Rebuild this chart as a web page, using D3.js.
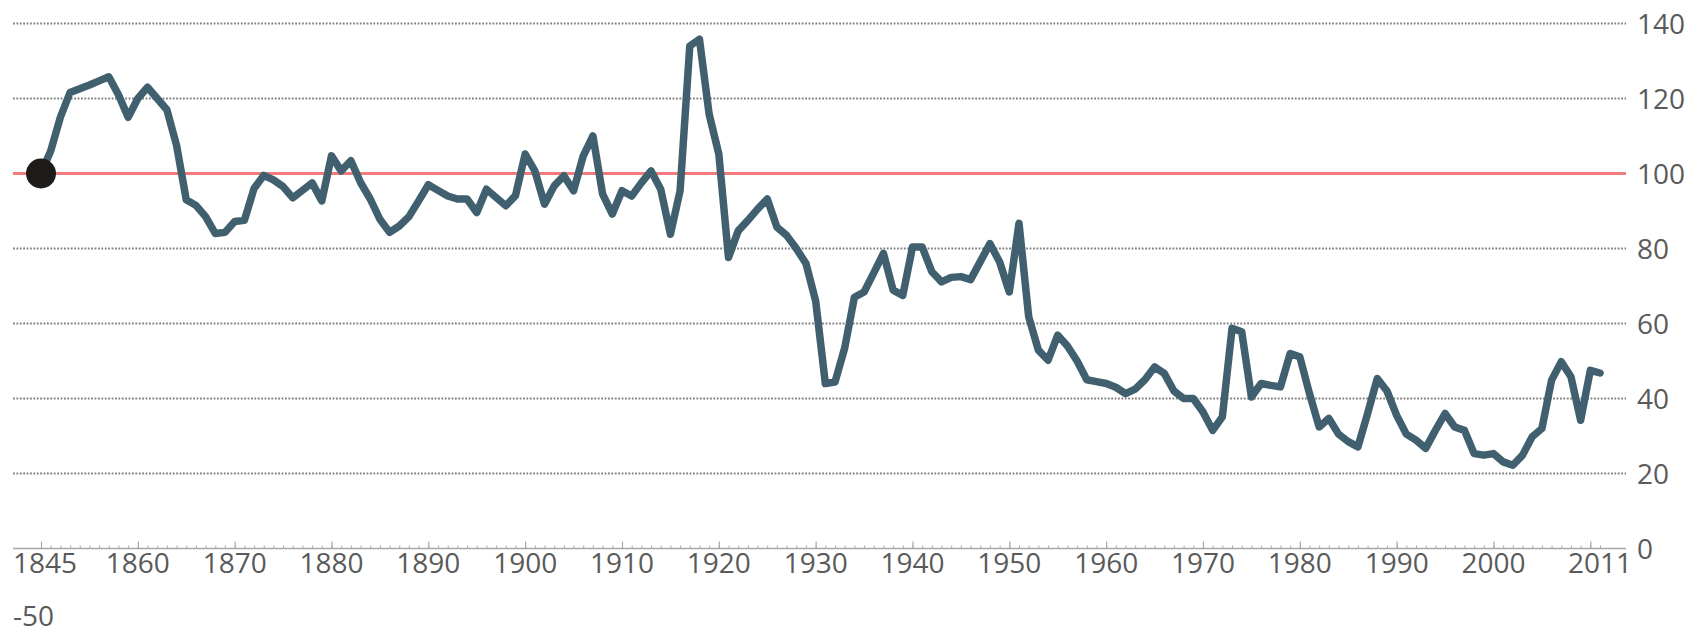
<!DOCTYPE html>
<html>
<head>
<meta charset="utf-8">
<script src="https://cdn.jsdelivr.net/npm/d3@7"></script>
<style>
    html, body { margin: 0; padding: 0; background: #fff; }
    svg { display: block; }
    text { font-family: 'Open Sans', 'DejaVu Sans', sans-serif; fill: #5a5a5a; }
</style>
</head>
<body>
<svg width="1703" height="638"></svg>
<script>
// index, 1845-50 = 100 (first point), then yearly
const firstYear = 1850;
const lastYear = 2011;
const values = [
    100, 106, 115, 121.6, 122.6, 123.6, 124.7, 125.8, 121, 115,
    120, 123, 120, 117, 107.5, 93, 91.5, 88.5, 84, 84.3,
    87.2, 87.5, 96, 99.5, 98.3, 96.5, 93.5, 95.5, 97.5, 92.7,
    104.7, 100.7, 103.4, 97.6, 93.2, 87.8, 84.3, 86, 88.5, 92.7,
    97, 95.5, 94, 93.2, 93.2, 89.6, 95.8, 93.6, 91.4, 94.1,
    105.2, 100.7, 91.8, 96.7, 99.4, 95.4, 104.7, 110, 94.5, 89.2,
    95.4, 94, 97.5, 100.7, 95.8, 83.8, 95.4, 134, 135.8, 115.8,
    105.2, 77.6, 84.7, 87.5, 90.5, 93.2, 85.7, 83.5, 80, 76,
    66, 44, 44.4, 53.5, 67, 68.4, 73.5, 78.7, 68.9, 67.5,
    80.4, 80.4, 73.8, 71.1, 72.3, 72.5, 71.7, 76.5, 81.3, 76.4,
    68.4, 86.7, 61.8, 52.9, 50.2, 56.9, 54, 50, 45, 44.5,
    44, 43, 41.3, 42.5, 45, 48.4, 46.7, 42, 40, 40,
    36.4, 31.5, 35.1, 58.7, 57.8, 40.4, 44, 43.5, 43.1, 52,
    51.1, 41.3, 32.4, 34.7, 30.5, 28.5, 27.1, 36, 45.3, 42,
    35.5, 30.5, 28.9, 26.7, 31.5, 36, 32.4, 31.5, 25.3, 24.9,
    25.3, 23.1, 22.2, 24.9, 29.8, 32, 44.9, 49.8, 45.8, 34.2,
    47.5, 46.8
];
const years = d3.range(firstYear, lastYear + 1);

const xLabelYears = [1850, 1860, 1870, 1880, 1890, 1900, 1910, 1920, 1930, 1940, 1950, 1960, 1970, 1980, 1990, 2000, 2011];
const xMajorTicks = [1850, 1860, 1870, 1880, 1890, 1900, 1910, 1920, 1930, 1940, 1950, 1960, 1970, 1980, 1990, 2000, 2010];
const yTicks = [0, 20, 40, 60, 80, 100, 120, 140];
const baseValue = 100;

const data = years.map(function(year, i) {
    return { year: year, value: values[i] };
});

const svg = d3.select('svg');

const plot = { left: 13, right: 1626 };

// Scales
const xScale = d3.scaleLinear()
    .domain([firstYear, lastYear])
    .range([41, 1600]);

const yScale = d3.scaleLinear()
    .domain([0, 140])
    .range([548.5, 23.5]);

// Gridlines
svg.append('g')
    .selectAll('line')
    .data(yTicks.filter(function(d) { return d !== 0 && d !== baseValue; }))
    .enter()
    .append('line')
    .attr('x1', plot.left)
    .attr('x2', plot.right)
    .attr('y1', function(d) { return yScale(d); })
    .attr('y2', function(d) { return yScale(d); })
    .style('stroke', '#808080')
    .style('stroke-width', 2)
    .style('stroke-dasharray', '1.8,1.6');

// Baseline (zero)
svg.append('line')
    .attr('x1', plot.left)
    .attr('x2', plot.right)
    .attr('y1', yScale(0))
    .attr('y2', yScale(0))
    .style('stroke', '#a8a8a8')
    .style('stroke-width', 1.5);

// Year ticks, minor and decades
svg.append('g')
    .attr('transform', 'translate(0,' + yScale(0) + ')')
    .call(d3.axisBottom(xScale).tickValues(years).tickSize(-3).tickFormat(''))
    .call(function(g) {
        g.select('.domain').remove();
        g.selectAll('line').style('stroke', '#a8a8a8').style('stroke-width', 1);
    });

svg.append('g')
    .attr('transform', 'translate(0,' + yScale(0) + ')')
    .call(d3.axisBottom(xScale).tickValues(xMajorTicks).tickSize(-7).tickFormat(''))
    .call(function(g) {
        g.select('.domain').remove();
        g.selectAll('line').style('stroke', '#a8a8a8').style('stroke-width', 1.2);
    });

// 1845-50 = 100 line
svg.append('line')
    .attr('x1', plot.left)
    .attr('x2', plot.right)
    .attr('y1', yScale(baseValue))
    .attr('y2', yScale(baseValue))
    .style('stroke', '#f27b7e')
    .style('stroke-width', 3);

// Series
const line = d3.line()
    .x(function(d) { return xScale(d.year); })
    .y(function(d) { return yScale(d.value); });

svg.append('path')
    .datum(data)
    .attr('d', line)
    .style('fill', 'none')
    .style('stroke', '#41606f')
    .style('stroke-width', 7.5)
    .style('stroke-linejoin', 'round')
    .style('stroke-linecap', 'round');

svg.append('circle')
    .attr('cx', xScale(data[0].year))
    .attr('cy', yScale(data[0].value))
    .attr('r', 15)
    .style('fill', '#1f1b18');

// Y labels on the right
svg.append('g')
    .selectAll('text')
    .data(yTicks)
    .enter()
    .append('text')
    .attr('x', plot.right + 11)
    .attr('y', function(d) { return yScale(d) + 10; })
    .style('font-size', '28px')
    .text(function(d) { return d; });

// X labels
svg.append('g')
    .selectAll('text')
    .data(xLabelYears)
    .enter()
    .append('text')
    .attr('x', function(d) {
        return d === firstYear ? xScale(d) - 28 : xScale(d);
    })
    .attr('y', 573)
    .style('font-size', '28px')
    .style('text-anchor', function(d) { return d === firstYear ? 'start' : 'middle'; })
    .text(function(d) { return d === firstYear ? '1845' : d; });

svg.append('text')
    .attr('x', xScale(firstYear) - 28)
    .attr('y', 626)
    .style('font-size', '28px')
    .text('-50');
</script>
</body>
</html>
